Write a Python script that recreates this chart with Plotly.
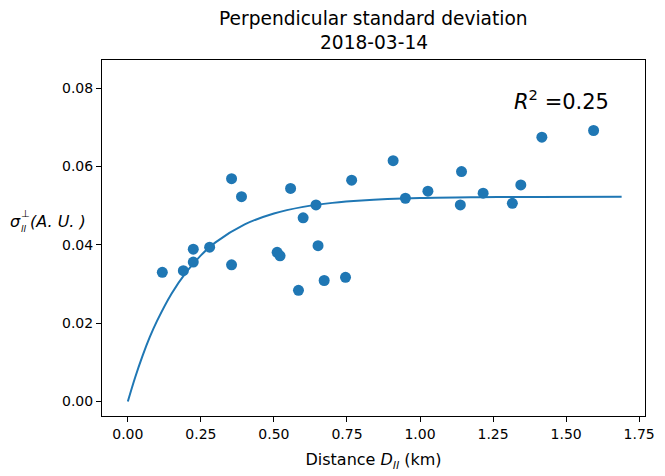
import plotly.graph_objects as go

# Scatter data (distance in km, perpendicular std in A.U.)
distance_km = [0.118, 0.190, 0.224, 0.224, 0.280, 0.355, 0.389, 0.355, 0.511, 0.521,
               0.557, 0.584, 0.600, 0.644, 0.651, 0.672, 0.745, 0.766, 0.908, 0.950,
               1.027, 1.142, 1.138, 1.216, 1.316, 1.345, 1.417, 1.594]
sigma_perp = [0.0330, 0.0334, 0.0389, 0.0356, 0.0394, 0.0569, 0.0523, 0.0349, 0.0381, 0.0372,
              0.0544, 0.0284, 0.0469, 0.0502, 0.0398, 0.0309, 0.0317, 0.0565, 0.0615, 0.0519,
              0.0537, 0.0587, 0.0502, 0.0532, 0.0506, 0.0553, 0.0675, 0.0692]

# Fitted curve
fit_x = [0.0, 0.025, 0.05, 0.075, 0.1, 0.15, 0.2, 0.25, 0.3, 0.4, 0.5, 0.6, 0.7, 0.8,
         1.0, 1.2, 1.4, 1.69]
fit_y = [0.0, 0.00612, 0.01157, 0.01641, 0.02058, 0.02759, 0.03306, 0.03732, 0.04063,
         0.04522, 0.04801, 0.04970, 0.05072, 0.05134, 0.05195, 0.05217, 0.05225, 0.05230]

x_ticks = [0.00, 0.25, 0.50, 0.75, 1.00, 1.25, 1.50, 1.75]
y_ticks = [0.00, 0.02, 0.04, 0.06, 0.08]
r_squared = 0.25
title_lines = ["Perpendicular standard deviation", "2018-03-14"]

BLUE = "#1f77b4"
FONT = "DejaVu Sans"
W, H = 665, 476
ML, MR, MT, MB = 102, 10, 60, 58

fig = go.Figure()
fig.add_trace(go.Scatter(x=fit_x, y=fit_y, mode="lines",
                         line=dict(color=BLUE, width=2, shape="spline"),
                         hoverinfo="skip", showlegend=False))
fig.add_trace(go.Scatter(x=distance_km, y=sigma_perp, mode="markers",
                         marker=dict(color=BLUE, size=11, line=dict(width=0)), showlegend=False))

axis_common = dict(showline=True, linecolor="black", linewidth=1, mirror=True, ticks="outside",
                   ticklen=5, tickwidth=1, tickcolor="black", showgrid=False, zeroline=False,
                   tickfont=dict(family=FONT, size=14, color="black"))

fig.update_layout(
    width=W, height=H,
    margin=dict(l=ML, r=MR, t=MT, b=MB),
    paper_bgcolor="white", plot_bgcolor="white",
    font=dict(family=FONT, color="black"),
    xaxis=dict(range=[-0.0884, 1.770], tickvals=x_ticks,
               ticktext=[f"{v:.2f}" for v in x_ticks],
               title=dict(text="Distance <i>D</i><sub><i>ll</i></sub> (km)",
                          font=dict(family=FONT, size=16, color="black"), standoff=13),
               **axis_common),
    yaxis=dict(range=[-0.0037, 0.0872], tickvals=y_ticks,
               ticktext=[f"{v:.2f}" for v in y_ticks], **axis_common),
)

plot_h = H - MT - MB
plot_w = W - ML - MR
def py(pix):
    return (H - MB - pix) / plot_h
def px(pix):
    return (pix - ML) / plot_w

def ann(text, x, y, size, xanchor="left"):
    fig.add_annotation(text=text, x=px(x), y=py(y), xref="paper", yref="paper",
                       showarrow=False, xanchor=xanchor, yanchor="middle", borderpad=0,
                       font=dict(family=FONT, size=size, color="black"))

ann(title_lines[0], 378.5, 18, 18.6, "center")
ann(title_lines[1], 378.5, 42, 18.6, "center")

# y-axis label (horizontal, mathtext-like)
ann("<i>σ</i>", 7, 222, 16)
ann("⊥", 18, 214, 10)
ann("<i>ll</i>", 18, 230, 9)
ann("<i>(A. U. )</i>", 28, 222, 16)

ann(f"<i>R</i><sup>2</sup> ={r_squared:.2f}", 521, 100, 21)

fig.write_html("out.html", config={"displayModeBar": False},
               post_script="document.body.style.margin='0';")
